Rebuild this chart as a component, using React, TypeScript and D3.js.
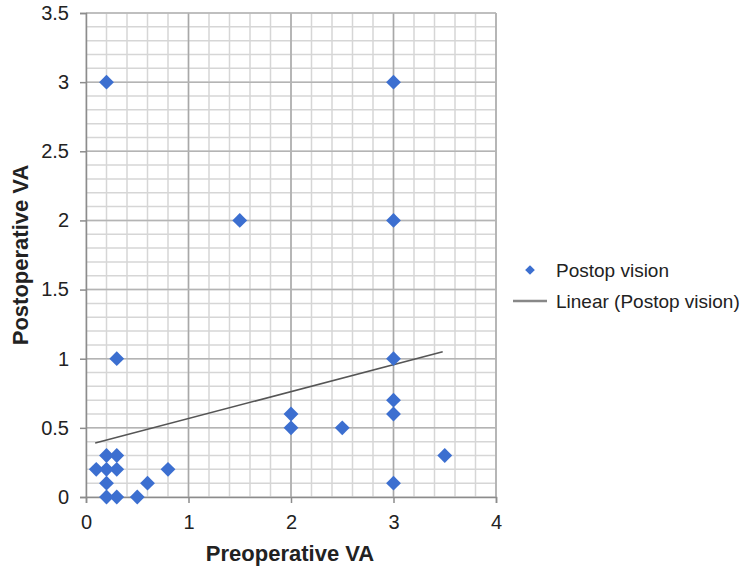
import { useEffect, useRef } from "react";
import * as d3 from "d3";

// Preoperative vs postoperative visual acuity
const preopVA = [0.2, 3, 1.5, 3, 0.3, 3, 3, 3, 2, 2, 2.5, 3.5, 3, 0.1, 0.2, 0.3, 0.2, 0.3, 0.2, 0.2, 0.3, 0.5, 0.6, 0.8];
const postopVA = [3, 3, 2, 2, 1, 1, 0.7, 0.6, 0.6, 0.5, 0.5, 0.3, 0.1, 0.2, 0.3, 0.3, 0.2, 0.2, 0.1, 0, 0, 0, 0.1, 0.2];

// Linear trend line as drawn (x start/end, y start/end)
const trendX = [0.09, 3.48];
const trendY = [0.39, 1.05];

const xTicks = [0, 1, 2, 3, 4];
const yTicks = [0, 0.5, 1, 1.5, 2, 2.5, 3, 3.5];
const legendLabels = ["Postop vision", "Linear (Postop vision)"];

const App: React.FC = () => {
    const svgRef = useRef<SVGSVGElement | null>(null);

    useEffect(() => {
        if (!svgRef.current) return;
        const svg = d3.select(svgRef.current);
        svg.selectAll("*").remove();

        const left = 86, right = 496, top = 13, bottom = 497;
        const x = d3.scaleLinear().domain([0, 4]).range([left, right]);
        const y = d3.scaleLinear().domain([0, 3.5]).range([bottom, top]);
        const font = "Arial, 'Liberation Sans', sans-serif";

        // minor grid
        const grid = svg.append("g");
        grid.selectAll(".vminor")
            .data(d3.range(0, 4.01, 0.2))
            .enter().append("line")
            .attr("x1", d => x(d)).attr("x2", d => x(d))
            .attr("y1", top).attr("y2", bottom)
            .attr("stroke", "#d6d6d6").attr("stroke-width", 1.5);
        grid.selectAll(".hminor")
            .data(d3.range(0, 3.51, 0.1))
            .enter().append("line")
            .attr("x1", left).attr("x2", right)
            .attr("y1", d => y(d)).attr("y2", d => y(d))
            .attr("stroke", "#d6d6d6").attr("stroke-width", 1.5);

        // major grid
        grid.selectAll(".vmajor")
            .data(xTicks.slice(1))
            .enter().append("line")
            .attr("x1", d => x(d)).attr("x2", d => x(d))
            .attr("y1", top).attr("y2", bottom)
            .attr("stroke", "#a8a8a8").attr("stroke-width", 1.5);
        grid.selectAll(".hmajor")
            .data(yTicks.slice(1))
            .enter().append("line")
            .attr("x1", left).attr("x2", right)
            .attr("y1", d => y(d)).attr("y2", d => y(d))
            .attr("stroke", "#b4b4b4").attr("stroke-width", 1.5);

        // axes
        const yAxis = svg.append("g")
            .attr("transform", `translate(${left},0)`)
            .call(d3.axisLeft(y).tickValues(yTicks).tickSize(6).tickPadding(11).tickFormat(d => String(d)));
        const xAxis = svg.append("g")
            .attr("transform", `translate(0,${bottom})`)
            .call(d3.axisBottom(x).tickValues(xTicks).tickSize(6).tickPadding(12).tickFormat(d => String(d)));
        [xAxis, yAxis].forEach(a => {
            a.select(".domain").attr("stroke", "#8c8c8c").attr("stroke-width", 1.5);
            a.selectAll(".tick line").attr("stroke", "#8c8c8c").attr("stroke-width", 1.5);
            a.selectAll(".tick text")
                .attr("fill", "#222")
                .style("font-family", font)
                .style("font-size", "20px");
        });

        // trend line
        svg.append("line")
            .attr("x1", x(trendX[0])).attr("y1", y(trendY[0]))
            .attr("x2", x(trendX[1])).attr("y2", y(trendY[1]))
            .attr("stroke", "#555").attr("stroke-width", 1.5);

        // points
        const diamond = d3.symbol().type(d3.symbolDiamond2).size(140);
        svg.selectAll(".pt")
            .data(preopVA.map((v, i) => [v, postopVA[i]]))
            .enter().append("path")
            .attr("d", diamond)
            .attr("transform", d => `translate(${x(d[0])},${y(d[1])})`)
            .attr("fill", "#3c6fd0");

        // axis titles
        svg.append("text")
            .attr("x", 290).attr("y", 561)
            .attr("text-anchor", "middle")
            .style("font-family", font).style("font-size", "22px").style("font-weight", "bold")
            .attr("fill", "#222")
            .text("Preoperative VA");
        svg.append("text")
            .attr("transform", `translate(28,255) rotate(-90)`)
            .attr("text-anchor", "middle")
            .style("font-family", font).style("font-size", "22px").style("font-weight", "bold")
            .attr("fill", "#222")
            .text("Postoperative VA");

        // legend
        const legend = svg.append("g");
        legend.append("path")
            .attr("d", d3.symbol().type(d3.symbolDiamond2).size(60))
            .attr("transform", "translate(530,270)")
            .attr("fill", "#3c6fd0");
        legend.append("line")
            .attr("x1", 513).attr("x2", 547).attr("y1", 301).attr("y2", 301)
            .attr("stroke", "#888").attr("stroke-width", 2.5);
        legend.selectAll("text")
            .data(legendLabels)
            .enter().append("text")
            .attr("x", 556).attr("y", (_, i) => 270 + i * 31)
            .attr("dy", "0.35em")
            .style("font-family", font).style("font-size", "19px")
            .attr("fill", "#222")
            .text(d => d);
    }, []);

    return (
        <svg ref={svgRef} width={741} height={568}
            style={{ position: "absolute", left: 0, top: 0, background: "#fff" }} />
    );
};

export default App;
